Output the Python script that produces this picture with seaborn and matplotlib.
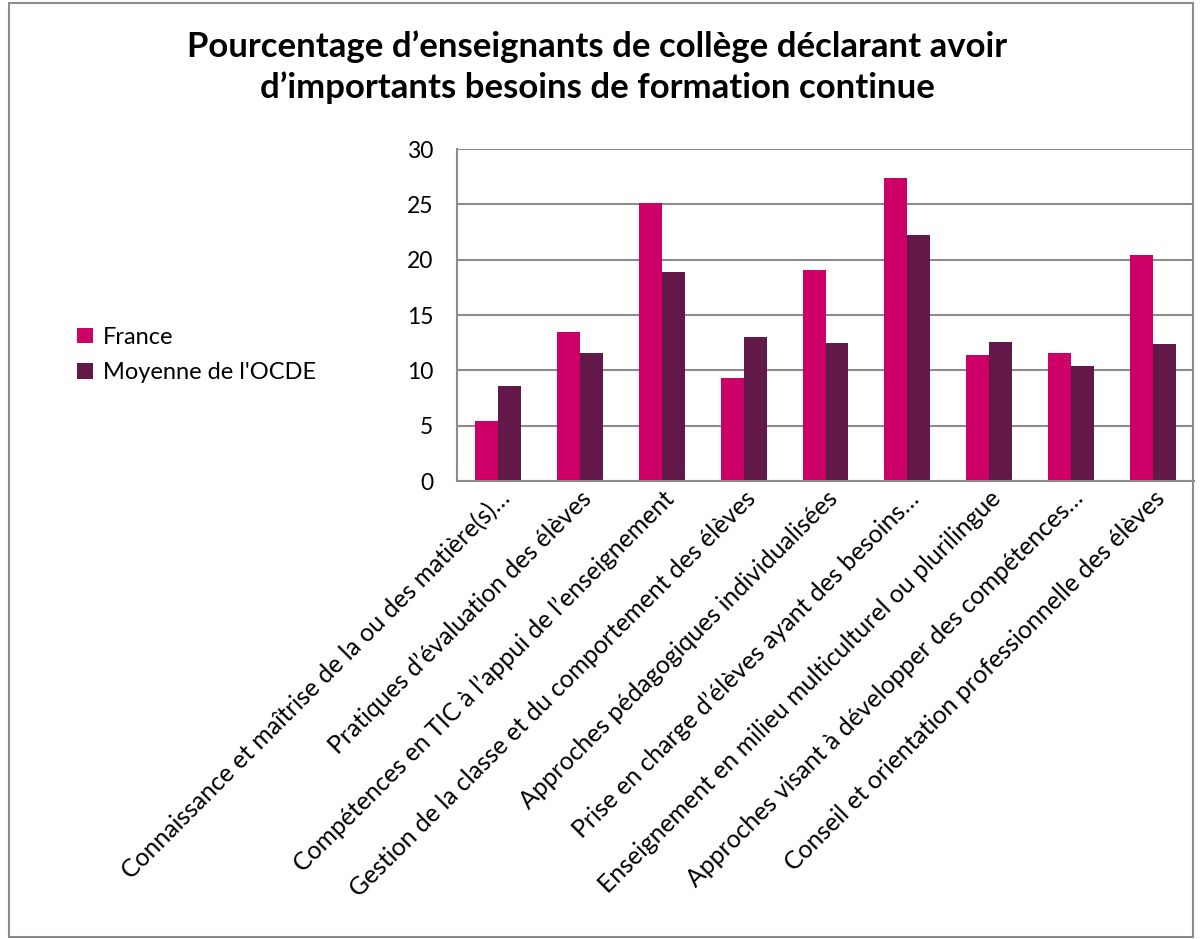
import matplotlib
matplotlib.use("Agg")
import matplotlib.pyplot as plt
import seaborn as sns
import pandas as pd
from matplotlib.patches import Rectangle

categories = [
    "Connaissance et maîtrise de la ou des matière(s)…",
    "Pratiques d’évaluation des élèves",
    "Compétences en TIC à l’appui de l’enseignement",
    "Gestion de la classe et du comportement des élèves",
    "Approches pédagogiques individualisées",
    "Prise en charge d’élèves ayant des besoins…",
    "Enseignement en milieu multiculturel ou plurilingue",
    "Approches visant à développer des compétences…",
    "Conseil et orientation professionnelle des élèves",
]
france = [5.4, 13.5, 25.1, 9.3, 19.1, 27.4, 11.4, 11.6, 20.4]
ocde = [8.6, 11.6, 18.9, 13.0, 12.5, 22.2, 12.6, 10.4, 12.4]
series_names = ["France", "Moyenne de l'OCDE"]
colors = ["#CC0066", "#621848"]
title = "Pourcentage d’enseignants de collège déclarant avoir\nd’importants besoins de formation continue"

df = pd.DataFrame({
    "cat": categories * 2,
    "val": france + ocde,
    "serie": [series_names[0]] * len(categories) + [series_names[1]] * len(categories),
})

sns.set_theme(style="white")
plt.rcParams["font.family"] = ["Lato", "DejaVu Sans"]
plt.rcParams["text.color"] = "black"
plt.rcParams["xtick.color"] = "black"
plt.rcParams["ytick.color"] = "black"

fig = plt.figure(figsize=(12.02, 9.39), dpi=100)
ax = fig.add_axes([457 / 1202, 1 - 481 / 939, (1194 - 457) / 1202, (481 - 149) / 939])

sns.barplot(data=df, x="cat", y="val", hue="serie", palette=colors, width=0.56,
            ax=ax, saturation=1, legend=True, edgecolor="none")

ax.set_ylim(0, 30)
ax.set_yticks(range(0, 31, 5))
ax.yaxis.grid(True, color="#8c8c8c", linewidth=1.5)
ax.set_axisbelow(True)
for s in ["top", "right"]:
    ax.spines[s].set_visible(False)
for s in ["left", "bottom"]:
    ax.spines[s].set_color("#8c8c8c")
    ax.spines[s].set_linewidth(1.5)
ax.set_xlabel("")
ax.set_ylabel("")
ax.tick_params(axis="y", labelsize=16.5, length=0, pad=17, labelcolor="black")
ax.tick_params(axis="x", labelsize=17.8, length=0, pad=4, labelcolor="black")
plt.setp(ax.get_xticklabels(), rotation=45, ha="right", va="top", rotation_mode="anchor")

leg = ax.legend(loc="center left", bbox_to_anchor=(56 / 1202, 1 - 355 / 939),
                bbox_transform=fig.transFigure, frameon=False, fontsize=17,
                handlelength=0.65, handleheight=0.65, handletextpad=0.45, labelspacing=0.62)
for t in leg.get_texts():
    t.set_color("black")

fig.text(597 / 1202, 1 - 67 / 939, title, ha="center", va="center", fontsize=25,
         fontweight="bold", linespacing=1.3, color="black")

fig.patches.append(Rectangle((9 / 1202, 0.002), 1 - 18 / 1202, 0.995, transform=fig.transFigure,
                             fill=False, edgecolor="#8c8c8c", linewidth=1.5))

fig.savefig("out.png", dpi=100)
